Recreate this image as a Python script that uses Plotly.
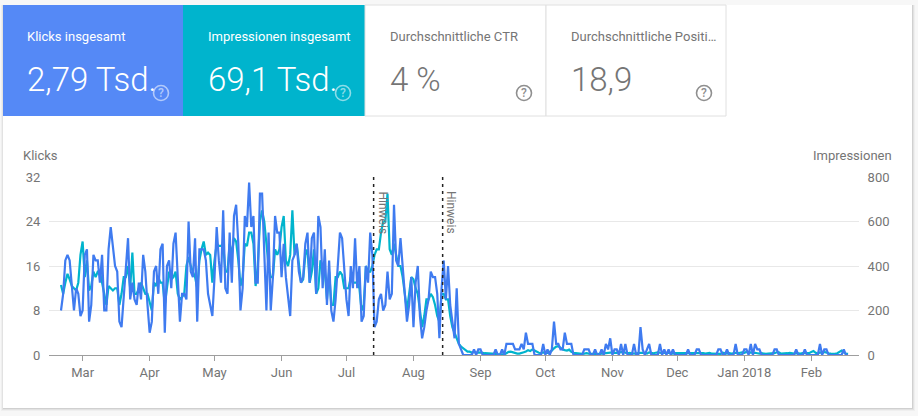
import pandas as pd
import plotly.graph_objects as go

W, H = 918, 416
L, R, T, B = 49, 859, 177, 355

start_date = "2017-02-19"
clicks_spring = [8,11,17,18,17,13,8,12,11,7,8,18,19,6,9,18,17,17,13,18,8,8,19,23,20,16,15,6,5,11,15,21,10,13,10,9,13,10,18,15,9,4,6,15,16,11,19,20,4,16,17,12,20,22,14,6,11,11,10,24,15,14,21,6,19,19,19,17,11,9,7,14,23,17,13,26,12,11,22,13,25,27,20,8,12,25,23,31]
clicks_summer = [23,25,13,13,29,29,20,8,22,8,14,25,22,22,14,20,14,11,7,17,18,20,15,13,14,20,22,13,21,22,11,25,23,12,19,9,17,8,6,10,16,22,21,15,10,7,16,12,21,12,16,6,7,16,13,22,18,5,6,10,11,8,9,15,10,11,27,17,16,21,16,11,6,9,14,5,13,16,7,3,5,8,10,15,14,14,11,3,12,17,10,16,9,6,3,12,2,1,0,0,0,0,0,1,0,1]
clicks_sep = [1,0,0,0,0,0,0,1,0,0,1,0,2,2,2,2,1,1,1,2,1,4,2,2,2,0,0,0,0,2]
clicks_oct = [0,1,0,1,6,2,2,1,1,4,2,2,2,0,0,0,0,0,1,1,1,0,0,1,0,0,1,0,2,1,3]
clicks_nov = [0,1,1,0,2,0,2,0,0,0,2,0,0,5,1,0,1,2,0,0,0,0,2,0,1,0,1,0,1,0]
clicks_dec = [0,0,0,0,0,1,0,0,0,1,1,0,0,0,0,0,0,0,0,1,1,0,0,1,0,0,0,2,0,0,0]
clicks_jan = [1,1,0,2,0,2,1,1,0,0,0,0,0,0,1,1,0,0,0,0,0,0,0,0,1,0,0,0,1,0,0]
clicks_feb = [0,0,0,0,2,0,1,1,0,0,0,0,0,0,0,1,0,0]

impr_spring = [315,275,325,365,340,310,300,290,325,450,510,350,425,290,310,375,350,375,375,325,275,225,310,300,290,300,300,225,275,350,350,400,300,460,275,275,300,325,300,275,275,240,200,325,310,350,325,325,225,300,375,340,350,375,275,250,260,275,400,440,400,375,350,300,425,475,510,450,460,450,325,425,500,490,490,500,375,375,500,450,525,510,425,310,350,500,490,550]
impr_summer = [550,500,310,400,600,650,600,500,400,350,350,475,450,475,575,625,425,400,450,650,450,500,400,325,340,450,475,325,375,475,275,300,425,400,375,250,375,225,225,350,350,375,360,300,300,300,350,325,325,325,300,200,225,400,375,375,400,450,475,475,550,600,600,725,475,450,500,450,400,400,350,275,200,275,350,340,300,275,200,125,175,250,250,275,260,225,175,150,275,275,250,250,175,125,100,75,50,38,30,20,15,15,10,15,10,12]
impr_sep = [12,10,8,8,6,6,5,5,4,4,3,3,8,14,15,12,8,6,6,8,12,16,22,18,25,20,14,10,8,12]
impr_oct = [10,10,14,20,30,38,40,32,25,22,20,24,14,10,8,7,6,5,6,8,6,5,4,5,4,5,6,7,8,10,12]
impr_nov = [12,10,10,14,12,18,10,8,10,8,6,8,10,10,10,8,6,12,10,8,10,12,10,8,10,8,10,8,6,8]
impr_dec = [8,10,10,8,10,10,8,8,10,10,8,8,8,6,8,10,6,5,6,5,5,10,8,6,8,6,8,10,8,10,12]
impr_jan = [10,14,10,12,8,10,8,6,8,6,5,6,6,5,8,12,12,6,6,8,8,10,8,6,8,6,6,8,8,10,8]
impr_feb = [14,18,10,6,12,10,14,10,8,6,5,5,8,14,20,12,6,5]

clicks = clicks_spring + clicks_summer + clicks_sep + clicks_oct + clicks_nov + clicks_dec + clicks_jan + clicks_feb
impressions = impr_spring + impr_summer + impr_sep + impr_oct + impr_nov + impr_dec + impr_jan + impr_feb
assert len(clicks) == 365 and len(impressions) == 365, (len(clicks), len(impressions), len(impr_spring), len(impr_summer), len(clicks_summer))

month_ticks = ["2017-03-01","2017-04-01","2017-05-01","2017-06-01","2017-07-01","2017-08-01","2017-09-01","2017-10-01","2017-11-01","2017-12-01","2018-01-01","2018-02-01"]
month_labels = ["Mar","Apr","May","Jun","Jul","Aug","Sep","Oct","Nov","Dec","Jan 2018","Feb"]
click_ticks = [0,8,16,24,32]
impr_ticks = [0,200,400,600,800]
notes = ["2017-07-13 14:00", "2017-08-14 12:00"]
cards = [
    ("Klicks insgesamt", "2,79 Tsd.", 3, 183, "#5589f6", "#ffffff"),
    ("Impressionen insgesamt", "69,1 Tsd.", 183, 365, "#00b4cd", "#ffffff"),
    ("Durchschnittliche CTR", "4 %", 365, 546, "#ffffff", "#757575"),
    ("Durchschnittliche Positi…", "18,9", 546, 726, "#ffffff", "#757575"),
]
GREY = "#757575"
dates = pd.date_range(start_date, periods=len(clicks))

def px(x): return (x - L) / (R - L)
def py(y): return (B - y) / (B - T)

fig = go.Figure()
fig.add_trace(go.Scatter(x=dates, y=impressions, yaxis="y", mode="lines", name="Impressionen",
                         line=dict(color="#00b4cd", width=2.2), hoverinfo="skip"))
fig.add_trace(go.Scatter(x=dates, y=clicks, yaxis="y2", mode="lines", name="Klicks",
                         line=dict(color="#3f7bf0", width=2.2), hoverinfo="skip"))

shapes, ann = [], []
def rect(x0, y0, x1, y1, fill, line=None, lw=0, layer="below"):
    shapes.append(dict(type="rect", xref="paper", yref="paper", x0=px(x0), x1=px(x1), y0=py(y0), y1=py(y1),
                       fillcolor=fill, line=dict(color=line or fill, width=lw), layer=layer))
def text(x, y, s, size, color, anchor="left", weight=400, **kw):
    ann.append(dict(xref="paper", yref="paper", x=px(x), y=py(y), text=s, showarrow=False, xanchor=anchor,
                    yanchor="middle", align=anchor, borderpad=0, borderwidth=0,
                    font=dict(family="Roboto", size=size, color=color, weight=weight), **kw))

for i, a in enumerate([0.03, 0.05, 0.08]):
    d = 3 - i
    rect(3 - d + 1, 5, 912 + d, 408 + d, f"rgba(0,0,0,{a})")
rect(3, 5, 912, 408, "#ffffff")
for label, value, x0, x1, fill, fg in cards:
    rect(x0, 5, x1, 116, fill, "#e0e0e0" if fill == "#ffffff" else fill, 1 if fill == "#ffffff" else 0)
    text(x0 + 24 if x0 == 3 else x0 + 25, 36, label, 13, fg)
    text(x0 + 24 if x0 == 3 else x0 + 25, 79.5, value, 33, fg, weight=300)
    cx = x1 - 22
    qcol = "rgba(255,255,255,0.55)" if fg == "#ffffff" else "#8f8f8f"
    shapes.append(dict(type="circle", xref="paper", yref="paper", x0=px(cx - 7.5), x1=px(cx + 7.5),
                       y0=py(93 + 7.5), y1=py(93 - 7.5), line=dict(color=qcol, width=1.6), layer="above"))
    text(cx, 93, "?", 12, qcol, anchor="center", weight=500)

for d in notes:
    shapes.append(dict(type="line", xref="x", yref="y", x0=d, x1=d, y0=0, y1=800,
                       line=dict(color="#222222", width=1.5, dash="3px,4px"), layer="above"))
text(383, 212.5, "Hinweis", 12, GREY, anchor="center", textangle=90)
text(451, 212, "Hinweis", 12, GREY, anchor="center", textangle=90)
text(23, 155.5, "Klicks", 13, GREY)
text(892, 155.5, "Impressionen", 13, GREY, anchor="right")

x_origin = pd.Timestamp(start_date)
per_day = (811 - 82.3) / 337
x_range = [x_origin + pd.Timedelta(days=(L - 61) / per_day), x_origin + pd.Timedelta(days=(R - 61) / per_day)]
tick_font = dict(family="Roboto", size=13, color=GREY)
fig.update_layout(
    width=W, height=H, margin=dict(l=L, r=W - R, t=T, b=H - B, pad=0), autosize=False,
    paper_bgcolor="#f7f7f7", plot_bgcolor="rgba(0,0,0,0)", showlegend=False,
    shapes=shapes, annotations=ann,
    xaxis=dict(range=x_range, type="date", tickmode="array", tickvals=month_ticks, ticktext=month_labels,
               ticks="outside", ticklen=5, tickcolor="#9e9e9e", showgrid=False, showline=True,
               linecolor="#9e9e9e", linewidth=1, tickfont=tick_font, zeroline=False),
    yaxis=dict(range=[0, 800], side="right", tickmode="array", tickvals=impr_ticks, showgrid=True,
               gridcolor="#e8e8e8", gridwidth=1, zeroline=False, ticks="outside", ticklen=5,
               tickcolor="rgba(0,0,0,0)", tickfont=tick_font),
    yaxis2=dict(range=[0, 32], side="left", overlaying="y", tickmode="array", tickvals=click_ticks,
                showgrid=False, zeroline=False, ticks="outside", ticklen=5,
                tickcolor="rgba(0,0,0,0)", tickfont=tick_font),
)
fig.write_html("out.html", config=dict(displayModeBar=False),
               post_script="document.body.style.margin='0';document.body.style.overflow='hidden';document.body.style.background='#f7f7f7';")
